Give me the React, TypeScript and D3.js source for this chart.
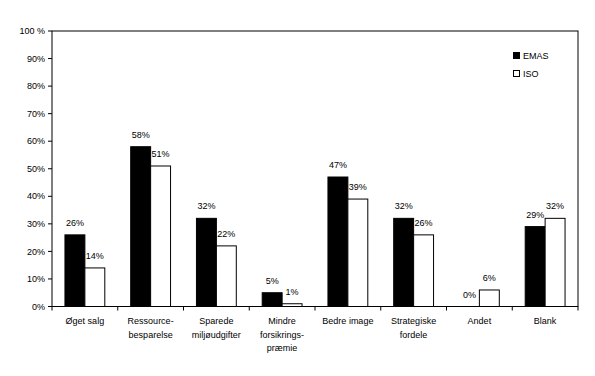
import React from "react";
import * as d3 from "d3";

const categories = [
  ["Øget salg"],
  ["Ressource-", "besparelse"],
  ["Sparede", "miljøudgifter"],
  ["Mindre", "forsikrings-", "præmie"],
  ["Bedre image"],
  ["Strategiske", "fordele"],
  ["Andet"],
  ["Blank"],
];
const emas = [26, 58, 32, 5, 47, 32, 0, 29];
const iso = [14, 51, 22, 1, 39, 26, 6, 32];
const yTicks = [0, 10, 20, 30, 40, 50, 60, 70, 80, 90, 100];
const seriesNames = ["EMAS", "ISO"];

export default function App() {
  const W = 595, H = 376;
  const left = 52, right = 578, top = 31, bottom = 306.5;
  const x = d3.scaleBand<number>().domain(d3.range(categories.length)).range([left, right]).paddingInner(0).paddingOuter(0);
  const y = d3.scaleLinear().domain([0, 100]).range([bottom, top]);
  const bw = x.bandwidth();
  const inner = d3.scaleBand<number>().domain([0, 1]).range([bw * 0.197, bw * 0.803]);
  const font = "'Liberation Sans', Arial, sans-serif";
  const series = [emas, iso];
  const fills = ["#000", "#fff"];
  return (
    <svg width={W} height={H} style={{ position: "absolute", left: 0, top: 0, background: "#fff" }} fontFamily={font}>
      <rect x={0} y={0} width={W} height={H} fill="#fff" />
      {/* plot area box */}
      <rect x={left} y={top} width={right - left} height={bottom - top} fill="none" stroke="#000" strokeWidth={1} />
      {/* y ticks */}
      {yTicks.map((t) => (
        <g key={t}>
          <line x1={left - 4} x2={left} y1={y(t)} y2={y(t)} stroke="#000" />
          <text x={45} y={y(t)} dy="0.35em" fontSize={9} textAnchor="end">
            {t === 100 ? "100 %" : `${t}%`}
          </text>
        </g>
      ))}
      {/* x ticks */}
      {d3.range(categories.length + 1).map((i) => {
        const xx = left + i * bw;
        return <line key={i} x1={xx} x2={xx} y1={bottom} y2={bottom + 4} stroke="#000" />;
      })}
      {/* bars */}
      {series.map((vals, s) =>
        vals.map((v, i) => {
          const bx = (x(i) as number) + (inner(s) as number);
          const w = inner.bandwidth();
          return (
            <g key={`${s}-${i}`}>
              {v > 0 && (
                <rect x={bx} y={y(v)} width={w} height={bottom - y(v)} fill={fills[s]} stroke="#000" strokeWidth={1} />
              )}
              <text x={bx + w / 2} y={y(v) - 9} fontSize={9} textAnchor="middle">
                {`${v}%`}
              </text>
            </g>
          );
        })
      )}
      {/* category labels */}
      {categories.map((lines, i) => (
        <text key={i} x={(x(i) as number) + bw / 2} y={324} fontSize={9} textAnchor="middle">
          {lines.map((l, j) => (
            <tspan key={j} x={(x(i) as number) + bw / 2} dy={j === 0 ? 0 : 13.5}>
              {l}
            </tspan>
          ))}
        </text>
      ))}
      {/* legend */}
      {seriesNames.map((n, s) => (
        <g key={n}>
          <rect x={513.5} y={52.5 + s * 18} width={6} height={6} fill={fills[s]} stroke="#000" strokeWidth={1} />
          <text x={523} y={59 + s * 18} fontSize={9}>
            {n}
          </text>
        </g>
      ))}
    </svg>
  );
}
